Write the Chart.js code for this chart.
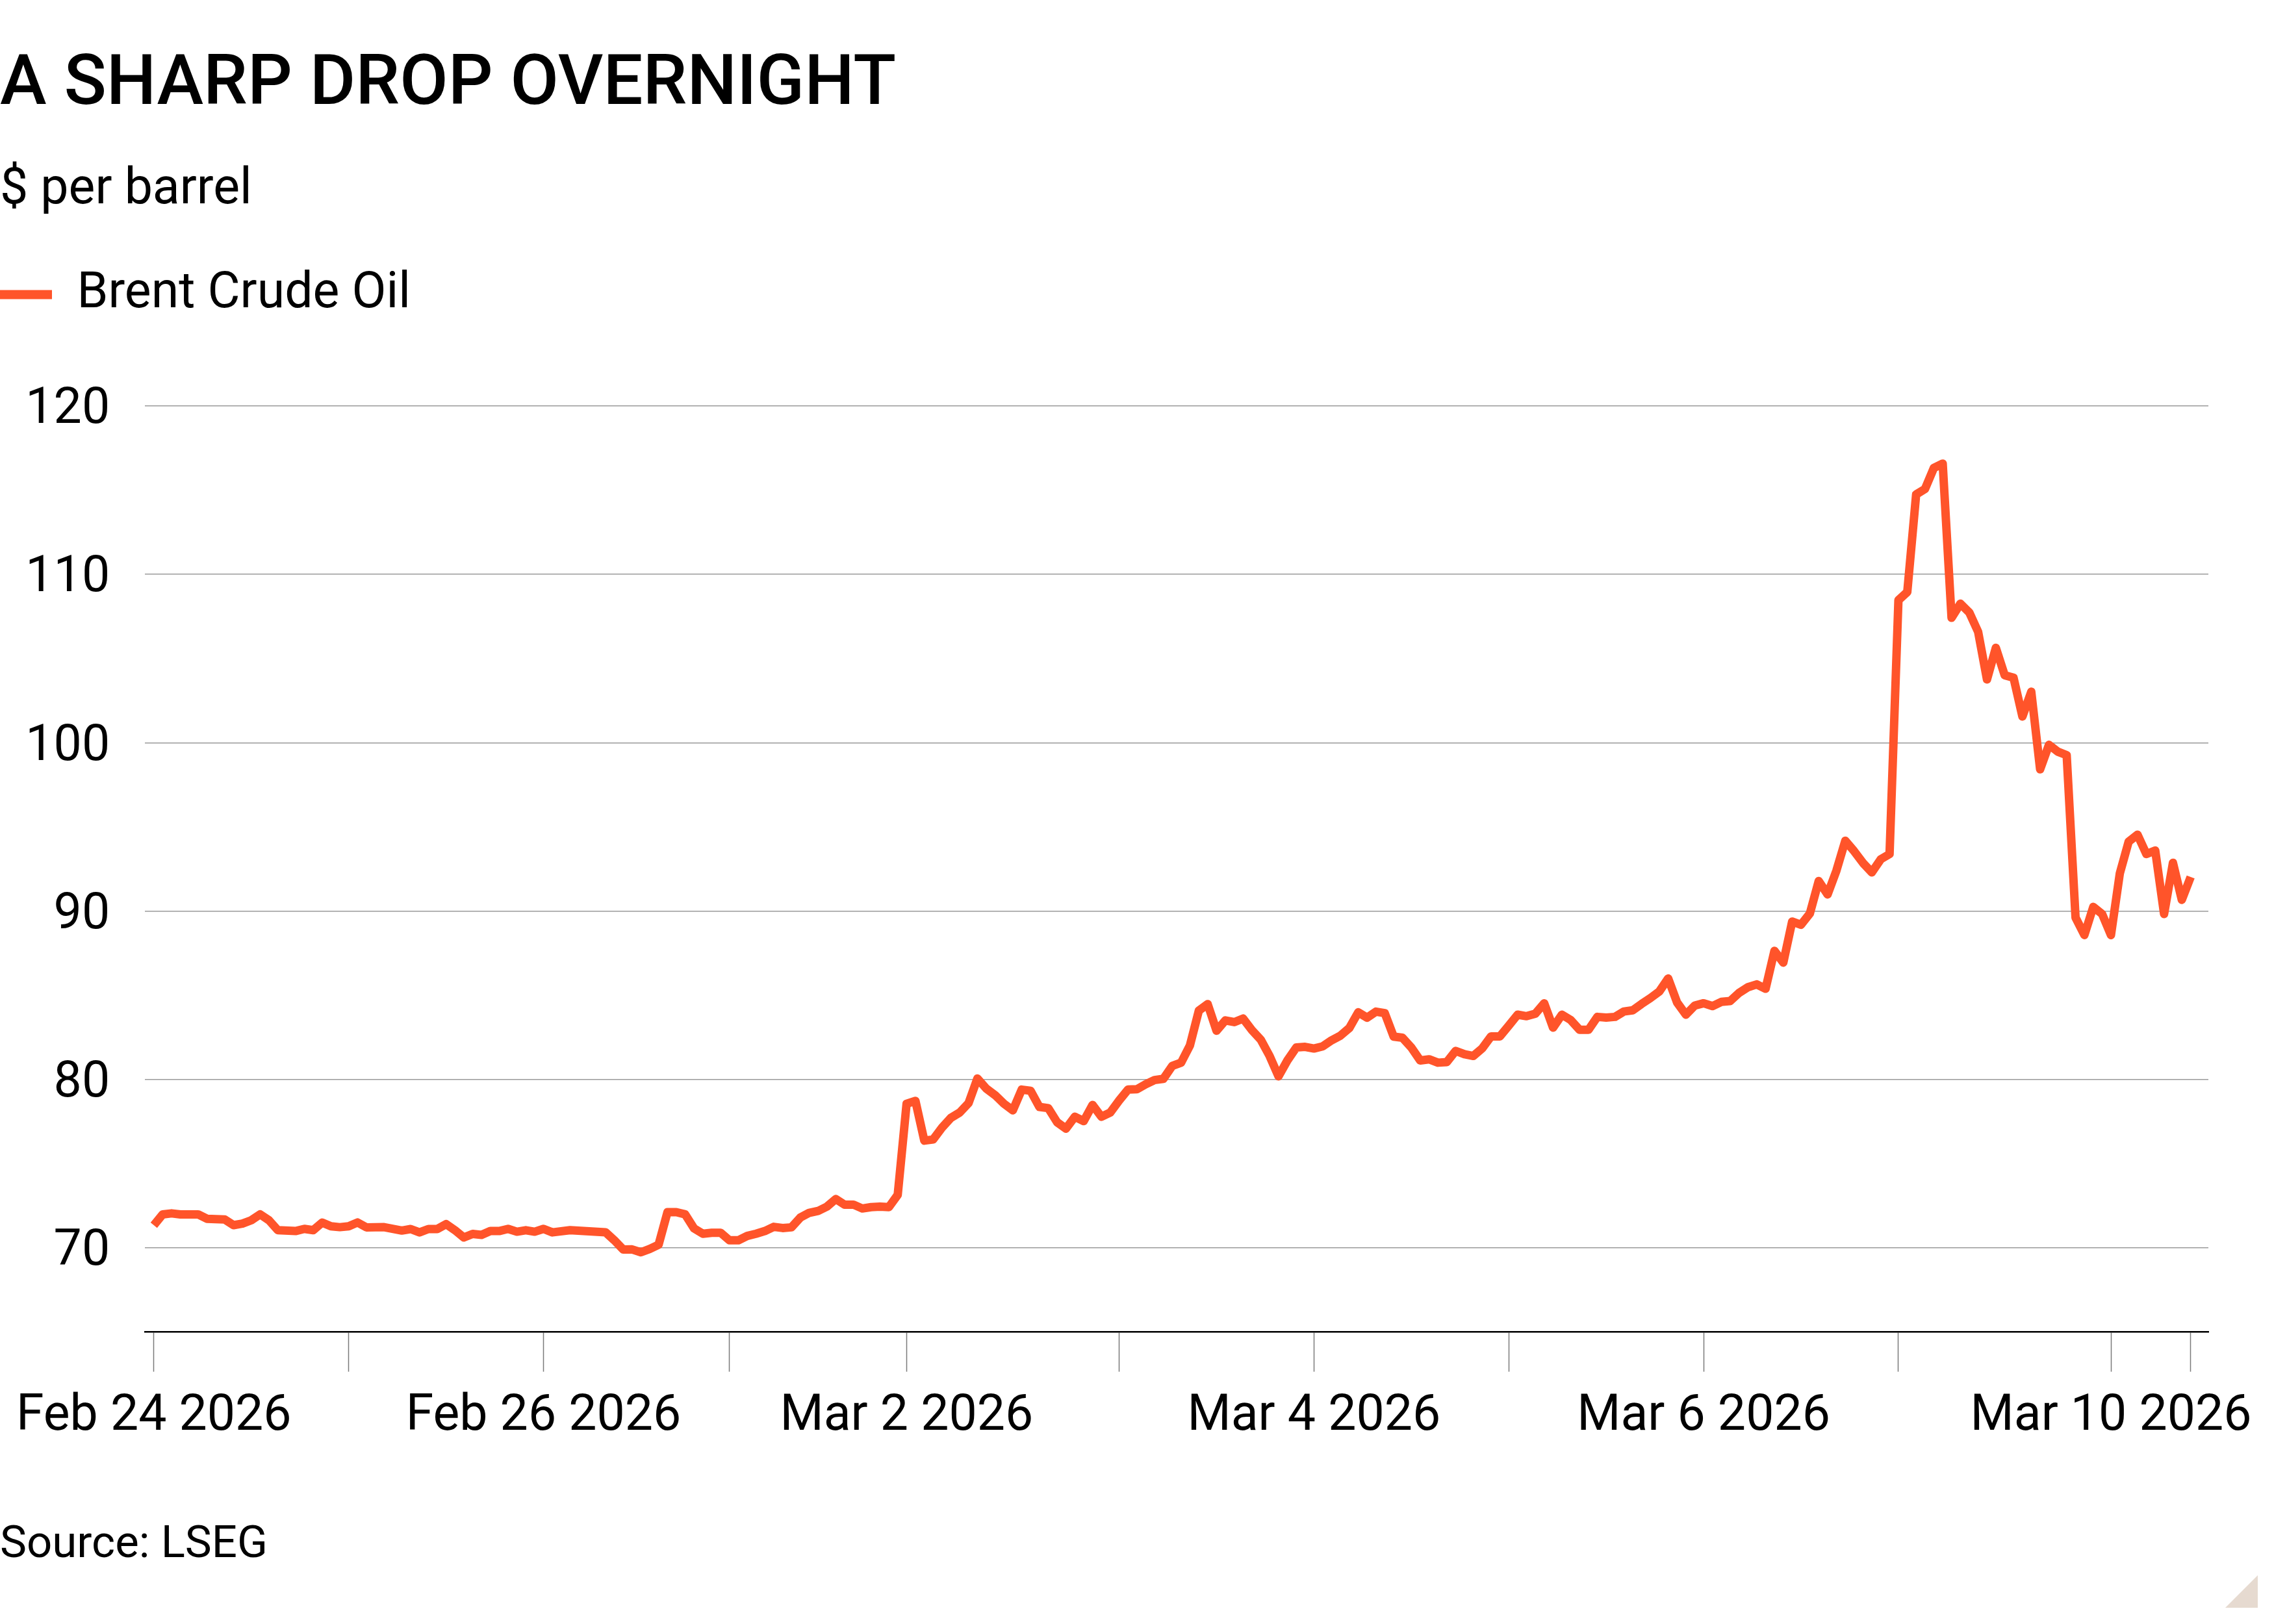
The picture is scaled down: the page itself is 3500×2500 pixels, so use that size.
<!DOCTYPE html>
<html>
<head>
<meta charset="utf-8">
<script src="https://cdn.jsdelivr.net/npm/chart.js@4.4.1/dist/chart.umd.min.js"></script>
<style>
  html, body { margin: 0; padding: 0; background: #ffffff; }
  #wrap { position: relative; width: 3500px; height: 2500px; background: #ffffff; overflow: hidden; }
  #chart { position: absolute; left: 0; top: 0; }
  #source { position: absolute; left: 0; top: 2339px; font-family: Roboto, sans-serif; font-size: 69px; line-height: 1; color: #000; white-space: nowrap; }
  #corner { position: absolute; left: 3425px; top: 2425px; width: 50px; height: 50px; background: #e6dad0; clip-path: polygon(100% 0, 100% 100%, 0 100%); }
</style>
</head>
<body>
<div id="wrap">
  <canvas id="chart" width="3500" height="2500"></canvas>
  <div id="source">Source: LSEG</div>
  <div id="corner"></div>
</div>
<script>
// ---- Data (hourly trading-bar index from Feb 24 2026 open) ----
const hours = [
  0, 1, 2, 3, 5, 6, 8, 9, 10, 11, 12, 13, 14, 16, 17, 18, 19, 20, 21, 22, 23, 24, 26, 28, 29, 30,
  31, 32, 33, 34, 35, 36, 37, 38, 39, 40, 41, 42, 43, 44, 45, 47, 51, 52, 53, 54, 55, 56, 57, 58,
  59, 60, 61, 62, 63, 64, 65, 66, 67, 68, 69, 70, 71, 72, 73, 74, 75, 76, 77, 78, 79, 80, 81, 82,
  83, 84, 85, 86, 87, 88, 89, 90, 91, 92, 93, 94, 95, 96, 97, 98, 99, 100, 101, 102, 103, 104, 105,
  106, 107, 108, 109, 110, 111, 112, 113, 114, 115, 116, 117, 118, 119, 120, 121, 122, 123, 124,
  125, 126, 127, 128, 129, 130, 131, 132, 133, 134, 135, 136, 137, 138, 139, 140, 141, 142, 143,
  144, 145, 146, 147, 148, 149, 150, 151, 152, 153, 154, 155, 156, 157, 158, 159, 160, 161, 162,
  163, 164, 165, 166, 167, 168, 169, 170, 171, 172, 173, 174, 175, 176, 177, 178, 179, 180, 181,
  182, 183, 184, 185, 186, 187, 188, 189, 190, 191, 192, 193, 194, 195, 196, 197, 198, 199, 200,
  201, 202, 203, 204, 205, 206, 207, 208, 209, 210, 211, 212, 213, 214, 215, 216, 217, 218, 219,
  220, 221, 222, 223, 224, 225, 226, 227, 228, 229, 230
];
const brentPrices = [
  71.35, 71.99, 72.05, 71.99, 71.99, 71.73, 71.69, 71.35, 71.44, 71.64, 71.99, 71.64, 71.05, 71.0,
  71.13, 71.05, 71.5, 71.28, 71.23, 71.28, 71.51, 71.22, 71.23, 71.03, 71.12, 70.92,
  71.12, 71.12, 71.41, 71.05, 70.62, 70.83, 70.77, 71.0, 71.0, 71.13, 70.96, 71.05, 70.96, 71.13,
  70.92, 71.05, 70.93, 70.45, 69.9, 69.91, 69.74, 69.94, 70.19, 72.12,
  72.12, 71.99, 71.16, 70.84, 70.9, 70.9, 70.45, 70.45, 70.71, 70.84, 71.0, 71.25, 71.18, 71.22,
  71.8, 72.08, 72.19, 72.45, 72.9, 72.57, 72.57, 72.34, 72.42, 72.45,
  72.42, 73.15, 78.56, 78.73, 76.37, 76.44, 77.14, 77.72, 78.04, 78.6, 80.06, 79.46, 79.07, 78.56,
  78.17, 79.4, 79.33, 78.37, 78.3, 77.46, 77.08, 77.79, 77.53,
  78.49, 77.79, 78.04, 78.75, 79.4, 79.42, 79.72, 79.97, 80.04, 80.81, 81.0, 82.03, 84.09, 84.48,
  82.9, 83.51, 83.41, 83.62, 82.93,
  82.36, 81.39, 80.19, 81.13, 81.9, 81.94, 81.84, 81.97, 82.33, 82.61, 83.06, 83.99, 83.67, 84.03,
  83.94, 82.55, 82.48, 81.9, 81.13,
  81.2, 81.0, 81.03, 81.7, 81.5, 81.4, 81.85, 82.56, 82.56, 83.2, 83.85, 83.76, 83.91, 84.53, 83.08,
  83.85, 83.53, 82.95, 82.95,
  83.72, 83.68, 83.72, 84.04, 84.11, 84.49, 84.84, 85.23, 86.0, 84.58, 83.85, 84.39, 84.53, 84.36,
  84.61, 84.66, 85.14, 85.48, 85.65,
  85.39, 87.64, 86.94, 89.38, 89.19, 89.86, 91.79, 90.99, 92.41, 94.18, 93.56, 92.86, 92.3, 93.08,
  93.39, 108.47, 108.95, 114.75, 115.07,
  116.32, 116.58, 107.42, 108.26, 107.74, 106.59, 103.76, 105.64, 104.01, 103.86, 101.56, 103.03,
  98.42, 99.88, 99.47, 99.26, 89.62, 88.58, 90.25,
  89.83, 88.58, 92.24, 94.13, 94.54, 93.39, 93.6, 89.83, 92.87, 90.67, 92.03
];
const xTickHours = [0, 22, 44, 65, 85, 109, 131, 153, 175, 197, 221, 230];
const xTickLabels = ['Feb 24 2026', '', 'Feb 26 2026', '', 'Mar 2 2026', '', 'Mar 4 2026', '', 'Mar 6 2026', '', 'Mar 10 2026', ''];
const yTickValues = [70, 80, 90, 100, 110, 120];

const ORANGE = '#ff542a';
Chart.defaults.font.family = 'Roboto';
Chart.defaults.color = '#000000';

const legendGap = {
  id: 'legendGap',
  beforeLayout(chart) {
    const lg = chart.legend;
    if (lg && !lg._gapPatched) {
      const origFit = lg.fit.bind(lg);
      lg.fit = function () { origFit(); this.height += 123; };
      lg._gapPatched = true;
    }
  }
};

const points = hours.map((h, i) => ({ x: h, y: brentPrices[i] }));

new Chart(document.getElementById('chart'), {
  type: 'line',
  data: {
    datasets: [{
      label: 'Brent Crude Oil',
      data: points,
      borderColor: ORANGE,
      backgroundColor: ORANGE,
      borderWidth: 13,
      borderJoinStyle: 'round',
      borderCapStyle: 'butt',
      pointRadius: 0,
      pointHoverRadius: 0,
      tension: 0,
      fill: false
    }]
  },
  plugins: [legendGap],
  options: {
    responsive: false,
    animation: false,
    devicePixelRatio: 1,
    layout: { padding: { left: 0, right: 101, top: 0, bottom: 248 } },
    plugins: {
      tooltip: { enabled: false },
      title: {
        display: true,
        text: 'A SHARP DROP OVERNIGHT',
        align: 'start',
        color: '#000000',
        font: { family: 'Roboto', size: 108, weight: '500', lineHeight: 1.2 },
        padding: { top: 68, bottom: 0 }
      },
      subtitle: {
        display: true,
        text: '$ per barrel',
        align: 'start',
        color: '#000000',
        font: { family: 'Roboto', size: 77, weight: '400', lineHeight: 1.2 },
        padding: { top: 50, bottom: 75 }
      },
      legend: {
        display: true,
        position: 'top',
        align: 'start',
        labels: {
          boxWidth: 80,
          boxHeight: 14,
          padding: 0,
          color: '#000000',
          font: { family: 'Roboto', size: 77, weight: '400' },
          generateLabels(chart) {
            return Chart.defaults.plugins.legend.labels.generateLabels(chart).map(l => Object.assign(l, { lineWidth: 0, fillStyle: ORANGE }));
          }
        }
      }
    },
    scales: {
      x: {
        type: 'linear',
        min: -1,
        max: 232,
        afterBuildTicks(scale) { scale.ticks = xTickHours.map(v => ({ value: v })); },
        grid: {
          display: true,
          drawOnChartArea: false,
          drawTicks: true,
          tickLength: 61,
          tickColor: '#7a7a7a',
          tickWidth: 1.5
        },
        border: { display: true, color: '#000000', width: 2.5 },
        ticks: {
          autoSkip: false,
          maxRotation: 0,
          minRotation: 0,
          padding: 24,
          color: '#000000',
          font: { family: 'Roboto', size: 77, lineHeight: 1.2 },
          callback(value) {
            const i = xTickHours.indexOf(value);
            return i >= 0 ? xTickLabels[i] : '';
          }
        }
      },
      y: {
        type: 'linear',
        min: 65,
        max: 120,
        afterBuildTicks(scale) { scale.ticks = yTickValues.map(v => ({ value: v })); },
        afterFit(scale) { scale.width = 219; },
        grid: {
          display: true,
          drawOnChartArea: true,
          drawTicks: false,
          color: '#9a9a9a',
          lineWidth: 1.5
        },
        border: { display: false },
        ticks: {
          padding: 54,
          labelOffset: 7,
          color: '#000000',
          font: { family: 'Roboto', size: 77, lineHeight: 1.2 }
        }
      }
    }
  }
});
</script>
</body>
</html>
